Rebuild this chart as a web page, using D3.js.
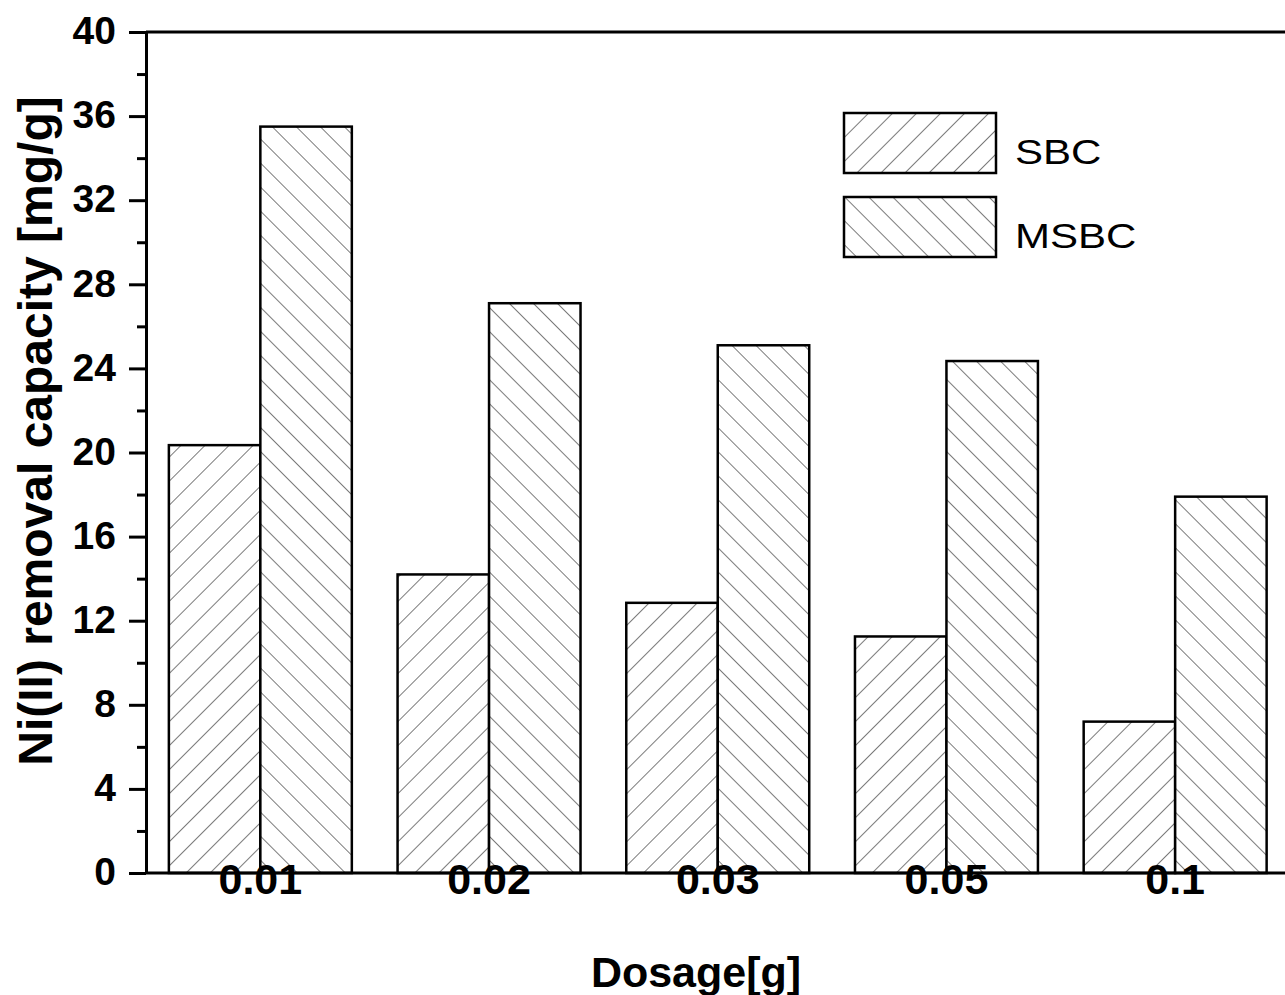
<!DOCTYPE html>
<html>
<head>
<meta charset="utf-8">
<script src="https://cdnjs.cloudflare.com/ajax/libs/d3/7.8.5/d3.min.js"></script>
<style>
body { margin: 0; background: #fff; }
svg { display: block; font-family: "Liberation Sans", Arial, sans-serif; }
</style>
</head>
<body>
<div id="chart"></div>
<script>
(function() {

// data
var dosages = ["0.01", "0.02", "0.03", "0.05", "0.1"];
var seriesNames = ["SBC", "MSBC"];
var sbcValues = [20.35, 14.2, 12.85, 11.25, 7.2];
var msbcValues = [35.5, 27.1, 25.1, 24.35, 17.9];
var majorTicks = [0, 4, 8, 12, 16, 20, 24, 28, 32, 36, 40];
var minorTicks = [2, 6, 10, 14, 18, 22, 26, 30, 34, 38];

var width = 1285, height = 995;
var left = 146, top = 32, bottom = 873, right = 1289.5;

var svg = d3.select("div#chart").append("svg")
	.attr("width", width)
	.attr("height", height);

// hatch patterns
var defs = svg.append("defs");
function hatch(id, angle) {
	var p = defs.append("pattern")
		.attr("id", id)
		.attr("patternUnits", "userSpaceOnUse")
		.attr("width", 17)
		.attr("height", 17)
		.attr("patternTransform", "rotate(" + angle + ")");
	p.append("rect").attr("width", 17).attr("height", 17).attr("fill", "#fff");
	p.append("line")
		.attr("x1", 0).attr("y1", 0)
		.attr("x2", 0).attr("y2", 17)
		.attr("stroke", "#222")
		.attr("stroke-width", 1.2);
}
hatch("hatch-sbc", 45);
hatch("hatch-msbc", -45);
var fills = { SBC: "url(#hatch-sbc)", MSBC: "url(#hatch-msbc)" };

var x0 = d3.scaleBand()
	.domain(dosages)
	.range([left, right])
	.paddingInner(0.2)
	.paddingOuter(0.1);

var x1 = d3.scaleBand()
	.domain(seriesNames)
	.range([0, x0.bandwidth()]);

var y = d3.scaleLinear()
	.domain([0, 40])
	.range([bottom, top]);

var rows = dosages.map(function(d, i) {
	return { dosage: d, values: [
		{ name: "SBC", value: sbcValues[i] },
		{ name: "MSBC", value: msbcValues[i] }
	]};
});

var groups = svg.selectAll(".group")
	.data(rows)
	.enter().append("g")
	.attr("class", "group")
	.attr("transform", function(d) { return "translate(" + x0(d.dosage) + ",0)"; });

groups.selectAll("rect")
	.data(function(d) { return d.values; })
	.enter().append("rect")
	.attr("x", function(d) { return x1(d.name); })
	.attr("y", function(d) { return y(d.value); })
	.attr("width", x1.bandwidth())
	.attr("height", function(d) { return bottom - y(d.value); })
	.attr("fill", function(d) { return fills[d.name]; })
	.attr("stroke", "#000")
	.attr("stroke-width", 2.5);

// frame lines (top and bottom run off the right edge)
svg.append("line")
	.attr("x1", left).attr("x2", width)
	.attr("y1", y(40)).attr("y2", y(40))
	.attr("stroke", "#000").attr("stroke-width", 3);

// x axis
var xAxis = svg.append("g")
	.attr("transform", "translate(0," + bottom + ")")
	.call(d3.axisBottom(x0).tickSize(0).tickSizeOuter(0));
xAxis.select(".domain").remove();
xAxis.selectAll("text")
	.attr("y", 21)
	.attr("dy", 0)
	.attr("font-size", 43)
	.attr("font-weight", "bold")
	.attr("font-family", "Liberation Sans, Arial, sans-serif")
	.attr("fill", "#000");
svg.append("line")
	.attr("x1", left).attr("x2", width)
	.attr("y1", bottom).attr("y2", bottom)
	.attr("stroke", "#000").attr("stroke-width", 3);

// y axis
var yAxis = svg.append("g")
	.attr("transform", "translate(" + left + ",0)")
	.call(d3.axisLeft(y).tickValues(majorTicks).tickSize(17).tickSizeOuter(0).tickPadding(13));
yAxis.select(".domain").attr("stroke-width", 3);
yAxis.selectAll(".tick line").attr("stroke-width", 3);
yAxis.selectAll("text")
	.attr("font-size", 39)
	.attr("font-weight", "bold")
	.attr("font-family", "Liberation Sans, Arial, sans-serif")
	.attr("dy", "0.3em")
	.attr("fill", "#000");

var yMinor = svg.append("g")
	.attr("transform", "translate(" + left + ",0)")
	.call(d3.axisLeft(y).tickValues(minorTicks).tickSize(9).tickSizeOuter(0).tickFormat(""));
yMinor.select(".domain").remove();
yMinor.selectAll(".tick line").attr("stroke-width", 3);

// axis titles
svg.append("text")
	.attr("x", 696)
	.attr("y", 987)
	.attr("text-anchor", "middle")
	.attr("font-size", 43)
	.attr("font-weight", "bold")
	.text("Dosage[g]");

svg.append("text")
	.attr("transform", "translate(52,431) rotate(-90)")
	.attr("text-anchor", "middle")
	.attr("font-size", 48)
	.attr("font-weight", "bold")
	.text("Ni(II) removal capacity [mg/g]");

// legend
var legend = svg.selectAll(".legend")
	.data(seriesNames)
	.enter().append("g")
	.attr("class", "legend")
	.attr("transform", function(d, i) { return "translate(844," + (113 + i * 84) + ")"; });

legend.append("rect")
	.attr("width", 152)
	.attr("height", 60)
	.attr("fill", function(d) { return fills[d]; })
	.attr("stroke", "#000")
	.attr("stroke-width", 2.5);

legend.append("text")
	.attr("transform", "translate(171,51) scale(1.2,1)")
	.attr("font-size", 35)
	.text(function(d) { return d; });

})();
</script>
</body>
</html>
